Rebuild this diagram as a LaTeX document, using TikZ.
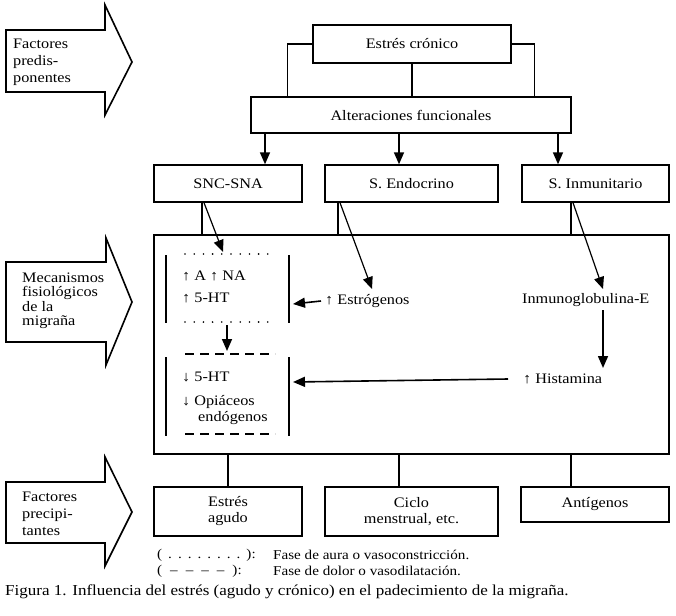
\documentclass[tikz,border=0pt]{standalone}
\usepackage{fontspec}
\setmainfont{Liberation Serif}[FakeStretch=1.12]
\usetikzlibrary{arrows.meta,calc}
\newcommand\myfs{\fontsize{14.5}{17}\selectfont}
\newcommand\dsp{\hspace{6pt}}
\newcommand\dshsp{\hspace{8pt}}
\begin{document}
\begin{tikzpicture}[x=1pt,y=-1pt,
  box/.style={draw,line width=1.4pt,inner sep=0pt,align=center,font=\myfs},
  txt/.style={inner sep=0pt,font=\myfs,anchor=west},
  lbl/.style={inner sep=0pt,font=\myfs,anchor=west,align=left},
  conn/.style={line width=1.2pt},
  arr/.style={line width=1.6pt,-{Triangle[width=10pt,length=12pt]}},
  bigarrow/.style={draw,line width=1.6pt,line join=miter},
  dotline/.style={line width=1.8pt,line cap=round,dash pattern=on 0pt off 9.2pt},
  dashline/.style={line width=1.4pt,dash pattern=on 9pt off 6pt},
  bar/.style={line width=1.3pt}
]
\useasboundingbox (0,0) rectangle (676,615);

% big hollow arrows
\draw[bigarrow] (6,30) -- (105,30) -- (105,5) -- (132,62) -- (105,115) -- (105,92) -- (6,92) -- cycle;
\draw[bigarrow] (6,262) -- (106,262) -- (106,238) -- (132,302) -- (106,365) -- (106,342) -- (6,342) -- cycle;
\draw[bigarrow] (6,482) -- (105,482) -- (105,457) -- (132,512) -- (105,566) -- (105,543) -- (6,543) -- cycle;
\node[lbl] (lab1) at (13,62) {Factores\\predis-\\ponentes};
\node[lbl,font=\fontsize{14.5}{14.5}\selectfont] (lab2) at (22,301) {Mecanismos\\fisiológicos\\de la\\migraña};
\node[lbl] (lab3) at (22,514) {Factores\\precipi-\\tantes};

% boxes
\node[box,minimum width=198pt,minimum height=38pt] (cronico) at (412,44) {Estrés crónico};
\node[box,minimum width=320pt,minimum height=36pt] (alter) at (411,115) {Alteraciones funcionales};
\node[box,minimum width=148pt,minimum height=37pt] (snc) at (228,183.5) {SNC-SNA};
\node[box,minimum width=173pt,minimum height=37pt] (endo) at (411.5,183.5) {S. Endocrino};
\node[box,minimum width=147pt,minimum height=37pt] (inmu) at (595.5,183.5) {S. Inmunitario};
\node[box,minimum width=515pt,minimum height=219pt] (big) at (411.5,344.5) {};
\node[box,minimum width=148pt,minimum height=49pt] (agudo) at (228,511.5) {Estrés\\[-1pt]agudo};
\node[box,minimum width=173pt,minimum height=49pt] (ciclo) at (411.5,511.5) {Ciclo\\[-1pt]menstrual, etc.};
\node[box,minimum width=148pt,minimum height=35pt] (antig) at (595,504.5) {Antígenos};

% top connectors
\draw[conn] (cronico.west) -| ($(alter.north west)+(37,0)$);
\draw[conn] (cronico.east) -| ($(alter.north east)+(-37,0)$);
\draw[conn] (cronico.south) -- (cronico.south |- alter.north);
\coordinate (a1) at ($(snc.north)+(37,0)$);
\coordinate (a2) at ($(endo.north)+(-12.5,0)$);
\coordinate (a3) at ($(inmu.north)+(-37.5,0)$);
\draw[arr] (alter.south -| a1) -- (a1);
\draw[arr] (alter.south -| a2) -- (a2);
\draw[arr] (alter.south -| a3) -- (a3);

% row 2 to big box
\coordinate (v1) at ($(snc.south)+(-26,0)$);
\coordinate (v2) at ($(endo.south)+(-73.5,0)$);
\coordinate (v3) at ($(inmu.south)+(-24.5,0)$);
\draw[conn] (v1) -- (v1 |- big.north);
\draw[conn] (v2) -- (v2 |- big.north);
\draw[conn] (v3) -- (v3 |- big.north);
\coordinate (t1) at (223,252);
\coordinate (t2) at (372,289);
\coordinate (t3) at (603,289);
\draw[arr,line width=1.2pt] ($(v1)+(2,0)$) -- (t1);
\draw[arr,line width=1.2pt] ($(v2)+(2,0)$) -- (t2);
\draw[arr,line width=1.2pt] ($(v3)+(2,0)$) -- (t3);

% sub-boxes
\draw[dotline] (185,254) -- (274,254);
\draw[dotline] (185,322) -- (274,322);
\draw[bar] (166,255) -- (166,323);
\draw[bar] (289,255) -- (289,323);
\draw[dashline] (185,354) -- (275,354);
\draw[dashline] (185,434) -- (275,434);
\draw[bar] (166,357) -- (166,436);
\draw[bar] (289,357) -- (289,436);
\node[txt] (ana) at (182,276) {↑ A ↑ NA};
\node[txt] (ht1) at (182,298) {↑ 5-HT};
\node[txt] (ht2) at (182,377) {↓ 5-HT};
\node[txt] (opi) at (182,402) {↓ Opiáceos};
\node[txt] (endg) at (198,418) {endógenos};
\coordinate (m1) at (227,325);
\coordinate (m2) at (227,351);
\draw[arr] (m1) -- (m2);

% right side contents
\node[txt] (estro) at (325,301) {↑ Estrógenos};
\node[txt] (inmE) at (522,300) {Inmunoglobulina-E};
\node[txt] (hist) at (523,379) {↑ Histamina};
\coordinate (upR) at (293,304);
\coordinate (loR) at (293,382);
\draw[arr] ($(estro.west)+(-4,0)$ |- upR) -- (upR);
\draw[arr] ($(hist.west)+(-15,0)$ |- loR) -- (loR);
\coordinate (ig1) at (603,310);
\coordinate (ig2) at (603,368);
\draw[arr] (ig1) -- (ig2);

% big box to bottom row
\coordinate (b1) at (agudo.north);
\coordinate (b2) at ($(ciclo.north)+(-12.5,0)$);
\coordinate (b3) at ($(antig.north)+(-24,0)$);
\draw[conn] (big.south -| b1) -- (b1);
\draw[conn] (big.south -| b2) -- (b2);
\draw[conn] (big.south -| b3) -- (b3);

% legend and caption
\node[txt,font=\fontsize{13.5}{14}\selectfont] (leg1a) at (157,555) {(\dsp.\dsp.\dsp.\dsp.\dsp.\dsp.\dsp.\dsp.\dsp):};
\node[txt,font=\fontsize{13.5}{14}\selectfont] (leg1b) at (273,555) {Fase de aura o vasoconstricción.};
\node[txt,font=\fontsize{13.5}{14}\selectfont] (leg2a) at (157,571) {(\dshsp–\dshsp–\dshsp–\dshsp–\dshsp):};
\node[txt,font=\fontsize{13.5}{14}\selectfont] (leg2b) at (273,571) {Fase de dolor o vasodilatación.};
\node[txt,font=\fontsize{15.2}{16}\selectfont] (cap) at (5,592) {Figura 1. Influencia del estrés (agudo y crónico) en el padecimiento de la migraña.};
\end{tikzpicture}
\end{document}
